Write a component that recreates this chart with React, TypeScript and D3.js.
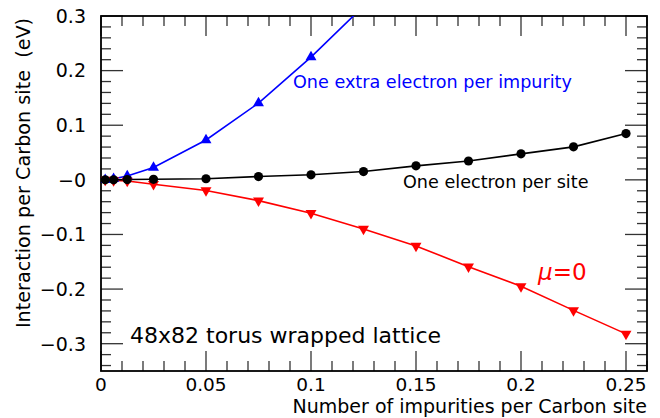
import React from "react";
import * as d3 from "d3";

// impurity concentrations (per Carbon site)
const xs = [0.002, 0.006, 0.0125, 0.025, 0.05, 0.075, 0.1, 0.125, 0.15, 0.175, 0.2, 0.225, 0.25];
// one electron per site
const halfFilled = [0.0, 0.0, 0.0005, 0.001, 0.002, 0.006, 0.0092, 0.0152, 0.0256, 0.0345, 0.0476, 0.0604, 0.0848];
// mu = 0
const muZero = [0.0, -0.001, -0.002, -0.008, -0.0195, -0.038, -0.061, -0.09, -0.121, -0.159, -0.195, -0.239, -0.282];
// one extra electron per impurity (last point lies above the frame)
const xsExtra = [0.002, 0.006, 0.0125, 0.025, 0.05, 0.075, 0.1, 0.125];
const extraElectron = [0.0, 0.002, 0.007, 0.0225, 0.073, 0.1405, 0.2247, 0.318];

const xMajor = [0, 0.05, 0.1, 0.15, 0.2, 0.25];
const yMajor = [-0.3, -0.2, -0.1, 0, 0.1, 0.2, 0.3];

const W = 660, H = 418;
const left = 101, right = 647, top = 16, bottom = 371;
const font = "'DejaVu Sans', sans-serif";

export default function App() {
  const x = d3.scaleLinear().domain([0, 0.26]).range([left, right]);
  const y = d3.scaleLinear().domain([-0.35, 0.3]).range([bottom, top]);

  const xMinor = d3.range(0, 27).map(i => i / 100).filter(v => Math.round(v * 100) % 5 !== 0);
  const yMinor = d3.range(-17, 16).map(i => i / 50).filter(v => Math.round(v * 50) % 5 !== 0);

  const line = d3.line<[number, number]>().x(d => x(d[0])).y(d => y(d[1]));
  const black = xs.map((v, i) => [v, halfFilled[i]] as [number, number]);
  const red = xs.map((v, i) => [v, muZero[i]] as [number, number]);
  const blue = xsExtra.map((v, i) => [v, extraElectron[i]] as [number, number]);

  const tri = d3.symbol().type(d3.symbolTriangle).size(52)() as string;

  const yFmt = (d: number) => (d === 0 ? "\u22120" : d < 0 ? "\u2212" + d3.format(".1f")(-d) : d3.format(".1f")(d));
  const xFmt = (d: number) => (d === 0 ? "0" : String(+d.toFixed(2)));

  return (
    <svg width={W} height={H} style={{ position: "absolute", left: 0, top: 0, background: "white" }}>
      <defs>
        <clipPath id="plot">
          <rect x={left} y={top} width={right - left} height={bottom - top} />
        </clipPath>
      </defs>

      {/* ticks */}
      <g stroke="#333" strokeWidth={1.3}>
        {xMajor.map(v => (
          <g key={"xM" + v}>
            <line x1={x(v)} x2={x(v)} y1={bottom} y2={bottom - 20} />
            <line x1={x(v)} x2={x(v)} y1={top} y2={top + 20} />
          </g>
        ))}
        {xMinor.map(v => (
          <g key={"xm" + v}>
            <line x1={x(v)} x2={x(v)} y1={bottom} y2={bottom - 10} />
            <line x1={x(v)} x2={x(v)} y1={top} y2={top + 10} />
          </g>
        ))}
        {yMajor.map(v => (
          <g key={"yM" + v}>
            <line x1={left} x2={left + 22} y1={y(v)} y2={y(v)} />
            <line x1={right} x2={right - 22} y1={y(v)} y2={y(v)} />
          </g>
        ))}
        {yMinor.map(v => (
          <g key={"ym" + v}>
            <line x1={left} x2={left + 10} y1={y(v)} y2={y(v)} />
            <line x1={right} x2={right - 10} y1={y(v)} y2={y(v)} />
          </g>
        ))}
      </g>
      <rect x={left} y={top} width={right - left} height={bottom - top} fill="none" stroke="#000" strokeWidth={1.8} />

      {/* tick labels */}
      <g fontFamily={font} fill="#000">
        {yMajor.map(v => (
          <text key={"yl" + v} x={86} y={y(v)} dy="0.36em" textAnchor="end" fontSize={19}>{yFmt(v)}</text>
        ))}
        {xMajor.map(v => (
          <text key={"xl" + v} x={x(v)} y={391} textAnchor="middle" fontSize={18.5}>{xFmt(v)}</text>
        ))}
      </g>

      {/* series */}
      <g clipPath="url(#plot)">
        <path d={line(blue) as string} fill="none" stroke="#0000ff" strokeWidth={1.6} />
        <path d={line(red) as string} fill="none" stroke="#ff0000" strokeWidth={1.6} />
        <path d={line(black) as string} fill="none" stroke="#000" strokeWidth={1.6} />
        {blue.map((d, i) => (
          <path key={"b" + i} d={tri} transform={`translate(${x(d[0])},${y(d[1])})`} fill="#0000ff" />
        ))}
        {red.map((d, i) => (
          <path key={"r" + i} d={tri} transform={`translate(${x(d[0])},${y(d[1])}) rotate(180)`} fill="#ff0000" />
        ))}
        {black.map((d, i) => (
          <circle key={"k" + i} cx={x(d[0])} cy={y(d[1])} r={4.6} fill="#000" />
        ))}
      </g>

      {/* annotations */}
      <g fontFamily={font}>
        <text x={293} y={88} fontSize={17.6} fill="#0000ff">One extra electron per impurity</text>
        <text x={403} y={188} fontSize={17.6} fill="#000">One electron per site</text>
        <text x={538} y={280} fontSize={23} fill="#ff0000">
          <tspan fontStyle="italic">μ</tspan>=0
        </text>
        <text x={130} y={343} fontSize={22} fill="#000">48x82 torus wrapped lattice</text>
        <text x={647} y={413} fontSize={19} textAnchor="end" fill="#000">Number of impurities per Carbon site</text>
        <text
          transform={`translate(30,173) rotate(-90)`}
          fontSize={19.2}
          textAnchor="middle"
          fill="#000"
          style={{ whiteSpace: "pre" }}
        >
          {"Interaction per Carbon site  (eV)"}
        </text>
      </g>
    </svg>
  );
}
